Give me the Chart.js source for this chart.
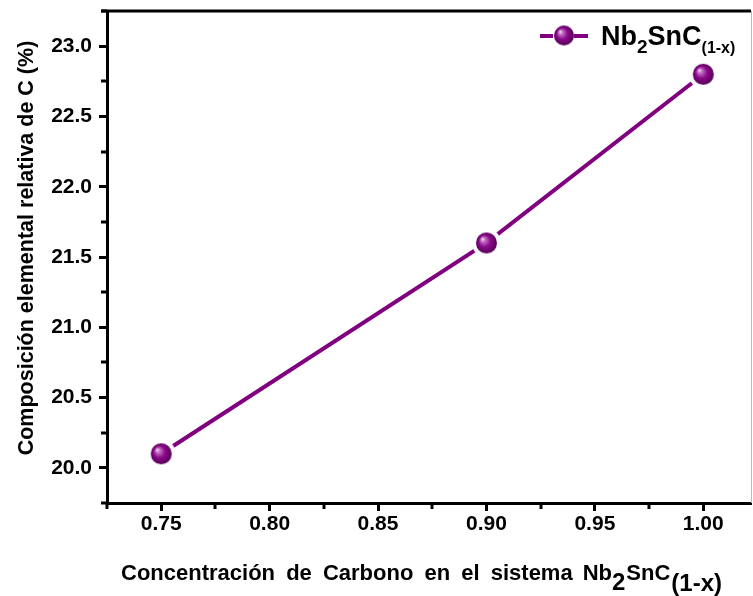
<!DOCTYPE html>
<html>
<head>
<meta charset="utf-8">
<script src="https://cdn.jsdelivr.net/npm/chart.js@4/dist/chart.umd.min.js"></script>
<style>
  html, body { margin: 0; padding: 0; background: #fff; }
  #wrap { width: 753px; height: 596px; }
</style>
</head>
<body>
<div id="wrap"><canvas id="chart" width="753" height="596"></canvas></div>
<script>
// Carbon concentration vs. relative elemental composition of C
const concentration = [0.75, 0.90, 1.00];
const carbonPct = [20.1, 21.6, 22.8];

const xTicks = [0.75, 0.80, 0.85, 0.90, 0.95, 1.00];
const yTicks = [20.0, 20.5, 21.0, 21.5, 22.0, 22.5, 23.0];
const xMinor = [0.725, 0.775, 0.825, 0.875, 0.925, 0.975];
const yMinor = [19.75, 20.25, 20.75, 21.25, 21.75, 22.25, 22.75, 23.25];

const PURPLE = '#800080';
const FONT = '"Liberation Sans", Arial, sans-serif';

// Shaded sphere marker with a white halo so the line stops short of it
function sphere(r, halo) {
    const size = Math.ceil((r + halo) * 2) + 2;
    const c = document.createElement('canvas');
    c.width = size;
    c.height = size;
    const g = c.getContext('2d');
    const m = size / 2;
    if (halo > 0) {
        g.fillStyle = '#fff';
        g.beginPath();
        g.arc(m, m, r + halo, 0, Math.PI * 2);
        g.fill();
    }
    const grad = g.createRadialGradient(m - r * 0.4, m - r * 0.4, 0, m, m, r);
    grad.addColorStop(0, '#f6e8f6');
    grad.addColorStop(0.22, '#c46ec4');
    grad.addColorStop(0.55, '#8c0a8c');
    grad.addColorStop(1, '#560056');
    g.fillStyle = grad;
    g.beginPath();
    g.arc(m, m, r, 0, Math.PI * 2);
    g.fill();
    return c;
}

const marker = sphere(10.5, 4);
const legendMarker = sphere(10, 0);

// Draw a run of [text, size, dy, gapAfter] pieces starting at x
function drawRuns(ctx, runs, x, y) {
    runs.forEach(([t, size, dy, gap]) => {
        ctx.font = 'bold ' + size + 'px ' + FONT;
        ctx.fillText(t, x, y + dy);
        x += ctx.measureText(t).width + (gap || 0);
    });
    return x;
}

// Same as drawRuns but with extra room between words
function drawWords(ctx, text, size, x, y, extra) {
    ctx.font = 'bold ' + size + 'px ' + FONT;
    const space = ctx.measureText(' ').width + extra;
    text.split(' ').forEach((w, i) => {
        if (i > 0) x += space;
        ctx.fillText(w, x, y);
        x += ctx.measureText(w).width;
    });
    return x;
}

const framePlugin = {
    id: 'frame',
    afterDraw(chart) {
        const { ctx, chartArea: a, scales } = chart;
        ctx.save();

        // top border and thin right edge
        ctx.strokeStyle = '#000';
        ctx.lineWidth = 3;
        ctx.beginPath();
        ctx.moveTo(a.left - 6, a.top);
        ctx.lineTo(a.right, a.top);
        ctx.stroke();
        ctx.strokeStyle = '#bbb';
        ctx.lineWidth = 1;
        ctx.beginPath();
        ctx.moveTo(a.right + 0.5, a.top);
        ctx.lineTo(a.right + 0.5, a.bottom);
        ctx.stroke();

        // minor ticks
        ctx.strokeStyle = '#000';
        ctx.lineWidth = 3;
        xMinor.forEach(v => {
            const px = Math.round(scales.x.getPixelForValue(v));
            ctx.beginPath();
            ctx.moveTo(px, a.bottom);
            ctx.lineTo(px, a.bottom + 6);
            ctx.stroke();
        });
        yMinor.forEach(v => {
            const py = Math.round(scales.y.getPixelForValue(v));
            ctx.beginPath();
            ctx.moveTo(a.left, py);
            ctx.lineTo(a.left - 6, py);
            ctx.stroke();
        });

        // axis titles
        ctx.fillStyle = '#000';
        ctx.textBaseline = 'alphabetic';
        ctx.textAlign = 'left';
        let x = drawWords(ctx, 'Concentración de Carbono en el sistema', 22, 121, 580, 5);
        x += 10;
        drawRuns(ctx, [
            ['Nb', 22, 0, 0],
            ['2', 24, 10, 1],
            ['SnC', 22, 0, 1],
            ['(1-x)', 24, 11, 0]
        ], x, 580);

        ctx.save();
        ctx.translate(33, 248);
        ctx.rotate(-Math.PI / 2);
        ctx.font = 'bold 21.5px ' + FONT;
        const title = 'Composición elemental relativa de C (%)';
        ctx.fillText(title, -ctx.measureText(title).width / 2, 0);
        ctx.restore();

        // legend
        ctx.strokeStyle = PURPLE;
        ctx.lineWidth = 4;
        ctx.beginPath();
        ctx.moveTo(540, 36);
        ctx.lineTo(553, 36);
        ctx.moveTo(574, 36);
        ctx.lineTo(588, 36);
        ctx.stroke();
        ctx.drawImage(legendMarker, 564 - legendMarker.width / 2, 35.5 - legendMarker.height / 2);
        ctx.fillStyle = '#000';
        drawRuns(ctx, [
            ['Nb', 27, 0],
            ['2', 19, 8],
            ['SnC', 27, 0],
            ['(1-x)', 16, 8]
        ], 601, 45);

        ctx.restore();
    }
};

new Chart(document.getElementById('chart'), {
    type: 'line',
    data: {
        datasets: [{
            data: concentration.map((x, i) => ({ x, y: carbonPct[i] })),
            borderColor: PURPLE,
            borderWidth: 4,
            tension: 0,
            pointStyle: marker,
            pointRadius: 10,
            pointHoverRadius: 10,
            clip: false
        }]
    },
    options: {
        responsive: false,
        animation: false,
        events: [],
        layout: { autoPadding: false, padding: { top: 11, right: 2, left: 0, bottom: 0 } },
        plugins: { legend: { display: false }, tooltip: { enabled: false } },
        scales: {
            x: {
                type: 'linear',
                min: 0.725,
                max: 1.022,
                afterBuildTicks: s => { s.ticks = xTicks.map(value => ({ value })); },
                afterFit: s => {
                    s.height = 93;
                    s.paddingLeft = 0;
                    s.paddingRight = 0;
                },
                grid: { drawOnChartArea: false, tickLength: 8, tickWidth: 3, tickColor: '#000' },
                border: { color: '#000', width: 3 },
                ticks: {
                    color: '#000',
                    padding: 1,
                    maxRotation: 0,
                    font: { family: FONT, size: 21, weight: 'bold' },
                    callback: v => v.toFixed(2)
                }
            },
            y: {
                min: 19.75,
                max: 23.25,
                afterBuildTicks: s => { s.ticks = yTicks.map(value => ({ value })); },
                afterFit: s => {
                    s.width = 107;
                    s.paddingTop = 0;
                    s.paddingBottom = 0;
                },
                grid: { drawOnChartArea: false, tickLength: 8, tickWidth: 3, tickColor: '#000' },
                border: { color: '#000', width: 3 },
                ticks: {
                    color: '#000',
                    padding: 7,
                    font: { family: FONT, size: 21, weight: 'bold' },
                    callback: v => v.toFixed(1)
                }
            }
        }
    },
    plugins: [framePlugin]
});
</script>
</body>
</html>
